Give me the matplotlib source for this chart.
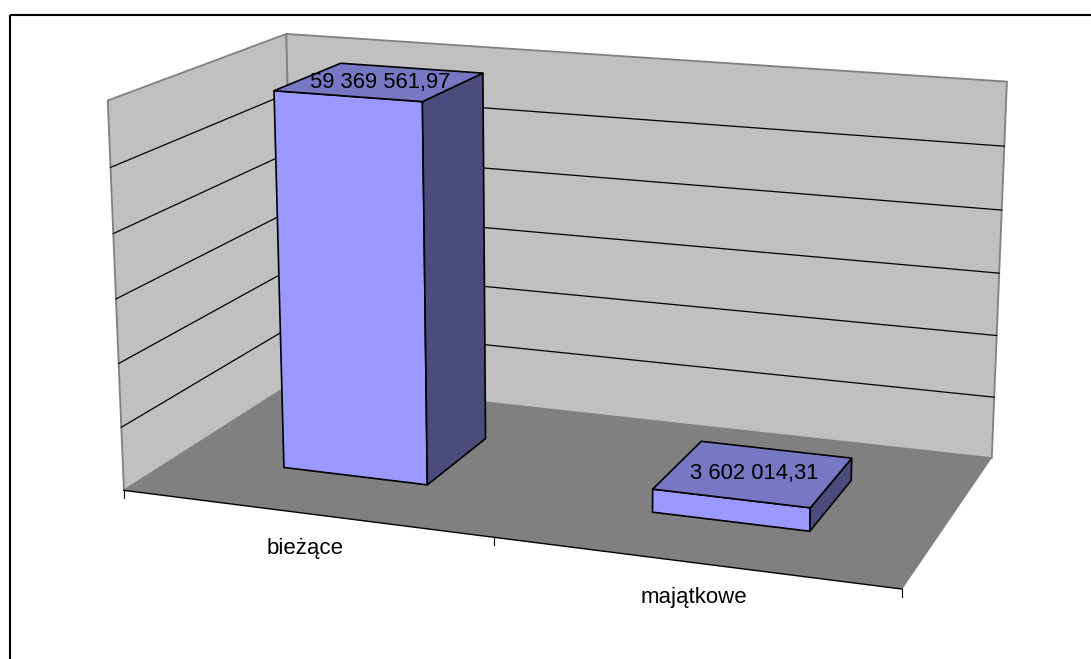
import numpy as np
import matplotlib
matplotlib.use("Agg")
import matplotlib.pyplot as plt
from matplotlib.patches import Polygon, Rectangle

# ---- data ----
categories = ["bieżące", "majątkowe"]
values = [59369561.97, 3602014.31]
value_labels = ["59 369 561,97", "3 602 014,31"]
value_max = 60000000
value_step = 10000000

# ---- layout: perspective frame of the 3D plot box (unit cube -> pixels) ----
box_unit = [(0, 0, 0), (1, 0, 0), (0, 1, 0), (1, 1, 0), (0, 0, 1), (0, 1, 1), (1, 1, 1)]
box_px = [(124, 490), (902, 590), (295, 382), (992, 457), (108, 100), (286, 34), (1007, 82)]

rows = []
for (X, Y, Z), (u, v) in zip(box_unit, box_px):
    rows.append([X, Y, Z, 1, 0, 0, 0, 0, -u * X, -u * Y, -u * Z, -u])
    rows.append([0, 0, 0, 0, X, Y, Z, 1, -v * X, -v * Y, -v * Z, -v])
_, _, Vt = np.linalg.svd(np.array(rows, float))
P = Vt[-1].reshape(3, 4)


def proj(pts):
    pts = np.asarray(pts, float)
    h = np.hstack([pts, np.ones((len(pts), 1))]) @ P.T
    return h[:, :2] / h[:, 2:3]


W, H = 1091, 659
fig = plt.figure(figsize=(W / 100, H / 100), dpi=100)
ax = fig.add_axes([0, 0, 1, 1])
ax.set_xlim(0, W)
ax.set_ylim(H, 0)
ax.axis("off")

FONT = "Liberation Sans"
WALL = "#C0C0C0"
WALL_EDGE = "#808080"
FLOOR = "#808080"

# chart border
ax.add_patch(Rectangle((9.5, 14.5), W + 20, H + 20, fill=False, ec="black", lw=1.5, zorder=0))

# walls
left_wall = proj([(0, 0, 0), (0, 1, 0), (0, 1, 1), (0, 0, 1)])
back_wall = proj([(0, 1, 0), (1, 1, 0), (1, 1, 1), (0, 1, 1)])
floor = proj([(0, 0, 0), (1, 0, 0), (1, 1, 0), (0, 1, 0)])
ax.add_patch(Polygon(left_wall, closed=True, fc=WALL, ec=WALL_EDGE, lw=1.3, zorder=1))
ax.add_patch(Polygon(back_wall, closed=True, fc=WALL, ec=WALL_EDGE, lw=1.3, zorder=1))
ax.add_patch(Polygon(floor, closed=True, fc=FLOOR, ec="none", lw=0, zorder=2))

# gridlines
for val in np.arange(value_step, value_max, value_step):
    z = val / value_max
    g = proj([(0, 0, z), (0, 1, z), (1, 1, z)])
    ax.plot(g[:, 0], g[:, 1], color="black", lw=0.9, zorder=3)

# category axis line + ticks
n = len(categories)
front = proj([(0, 0, 0), (1, 0, 0)])
ax.plot(front[:, 0], front[:, 1], color="black", lw=1.0, zorder=4)
for i in range(n + 1):
    p = proj([(i / n, 0, 0)])[0]
    ax.plot([p[0], p[0]], [p[1], p[1] + 8], color="black", lw=0.8, zorder=4)

# category labels
for i, cat in enumerate(categories):
    p = proj([((i + 0.5) / n, 0, 0)])[0]
    ax.text(p[0], p[1] + 35, cat, ha="center", va="center",
            fontsize=16, family=FONT, color="black", zorder=6)

# bars
FRONT_C = "#9999FF"
TOP_C = "#7777C4"
SIDE_C = "#4B4B7E"
bar_w = 0.5 / 2.5
d0, d1 = 0.3, 0.7
for i, (val, lab) in enumerate(zip(values, value_labels)):
    c = (i + 0.5) / n
    x0, x1 = c - bar_w / 2, c + bar_w / 2
    z = val / value_max
    faces = [
        ([(x0, d0, 0), (x1, d0, 0), (x1, d0, z), (x0, d0, z)], FRONT_C),
        ([(x1, d0, 0), (x1, d1, 0), (x1, d1, z), (x1, d0, z)], SIDE_C),
        ([(x0, d0, z), (x1, d0, z), (x1, d1, z), (x0, d1, z)], TOP_C),
    ]
    for pts, col in faces:
        ax.add_patch(Polygon(proj(pts), closed=True, fc=col, ec="black", lw=1.2,
                             joinstyle="round", zorder=5))
    tc = proj([(c, (d0 + d1) / 2, z)])[0]
    ax.text(tc[0], tc[1] + 0.5, lab, ha="center", va="center", fontsize=15.8,
            family=FONT, color="black", zorder=6)

fig.savefig("out.png", dpi=100)
